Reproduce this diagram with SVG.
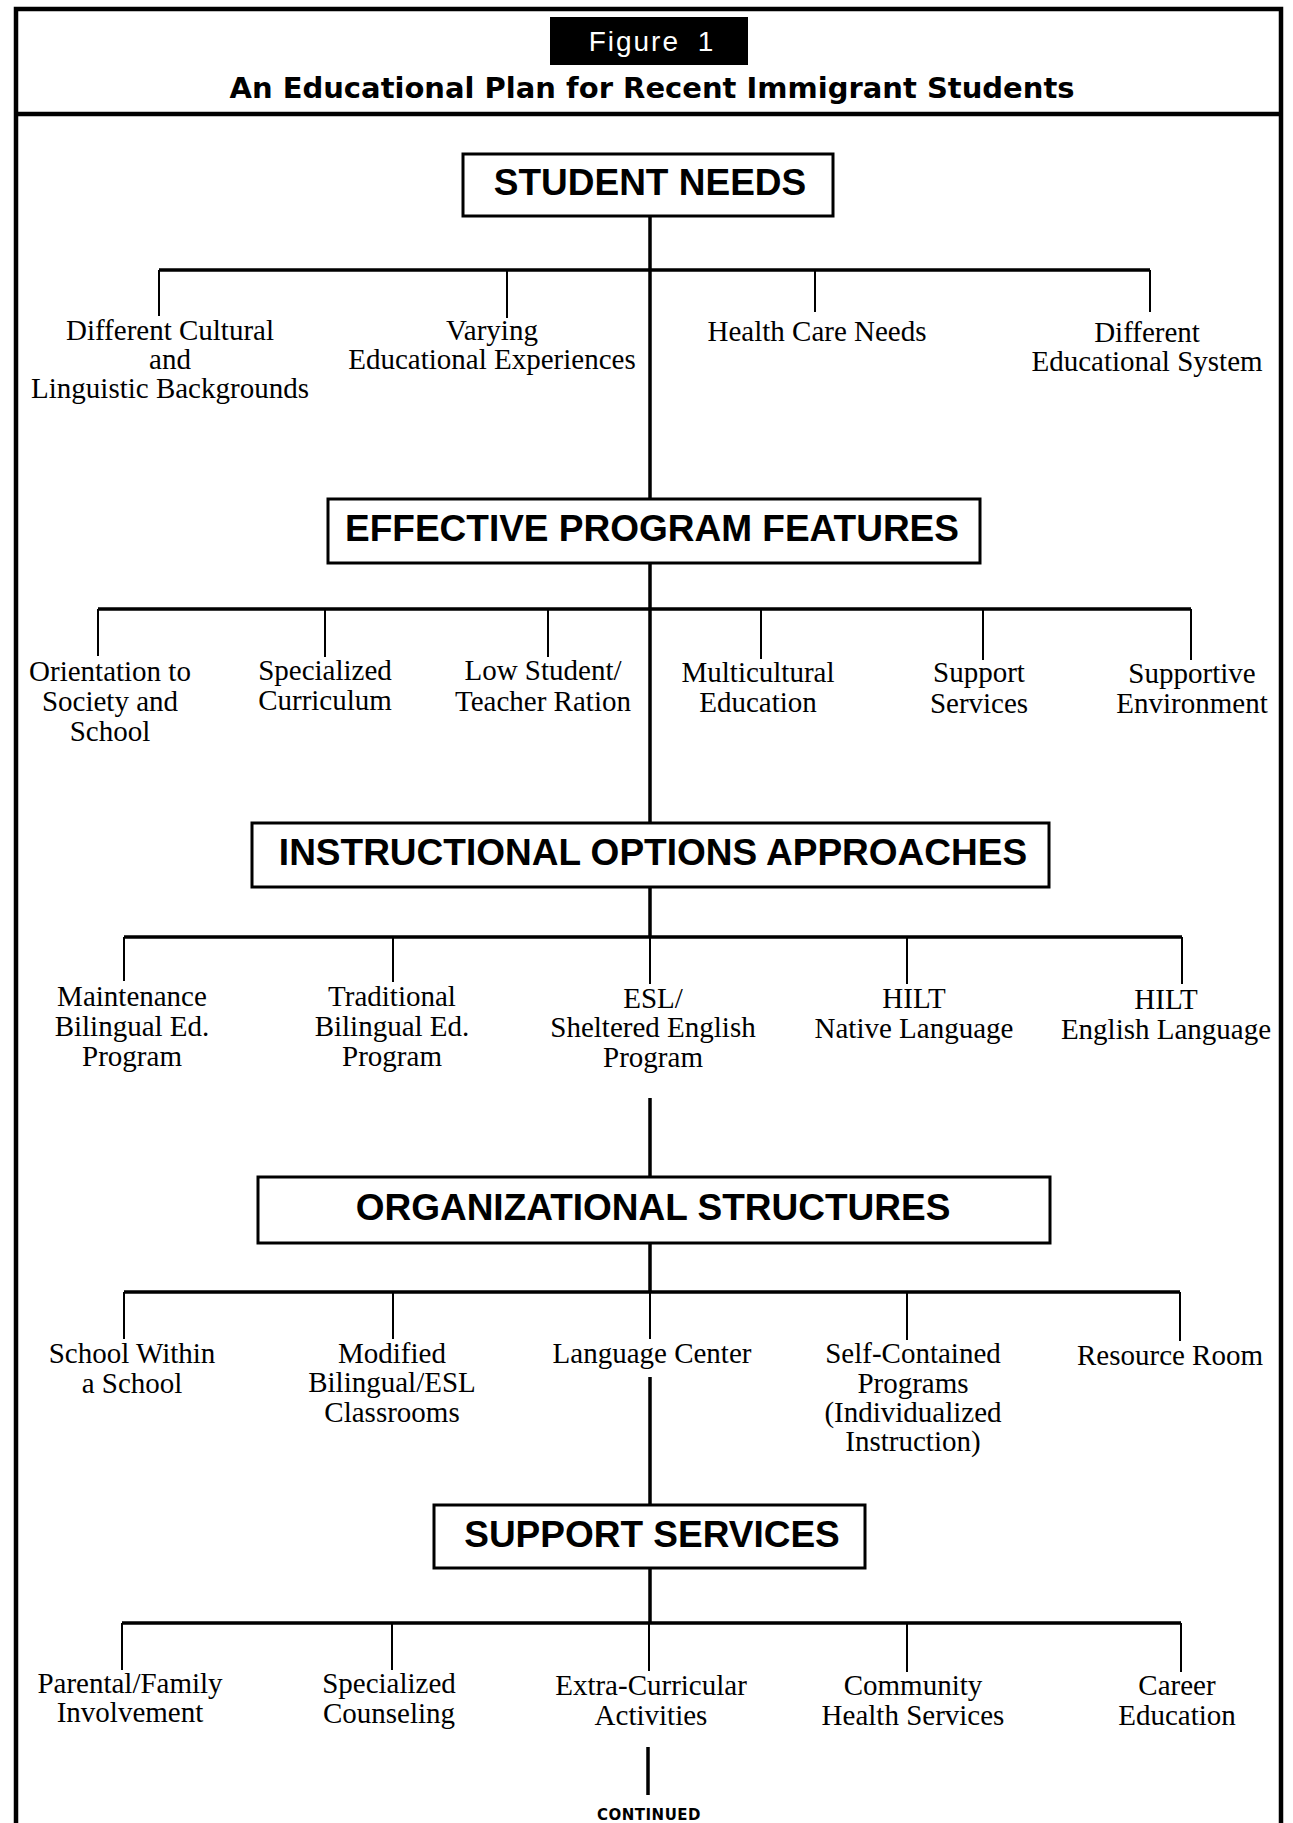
<svg xmlns="http://www.w3.org/2000/svg" width="1293" height="1823" viewBox="0 0 1293 1823">
<style>
.frame{fill:none;stroke:#000;stroke-width:4.5}
.box{fill:#fff;stroke:#000;stroke-width:3}
.trunk{fill:none;stroke:#000;stroke-width:3.5}
.bar{fill:none;stroke:#000;stroke-width:3.5}
.drop{fill:none;stroke:#000;stroke-width:2}
.h{font-family:"Liberation Sans",Arial,sans-serif;font-weight:bold;font-size:37px;text-anchor:middle;fill:#000}
.t{font-family:"Liberation Serif","Times New Roman",serif;font-size:29px;text-anchor:middle;fill:#000}
.title{font-family:"DejaVu Sans",sans-serif;font-weight:bold;font-size:29px;text-anchor:middle;fill:#000}
.fig{font-family:"Liberation Sans",Arial,sans-serif;font-size:28px;text-anchor:middle;fill:#fff;letter-spacing:2px;word-spacing:8px}
.cont{font-family:"DejaVu Sans",sans-serif;font-weight:bold;font-size:15px;text-anchor:middle;fill:#000;letter-spacing:0.5px}
</style>
<rect x="0" y="0" width="1293" height="1823" fill="#fff"/>
<g id="frame">
<path class="frame" d="M16,1823 V9 H1281 V1823"/>
<path class="frame" d="M16,114 H1281"/>
</g>
<g id="header">
<rect x="550" y="17" width="198" height="48" fill="#000"/>
<text class="fig" x="652" y="51">Figure 1</text>
<text class="title" x="652" y="98">An Educational Plan for Recent Immigrant Students</text>
</g>
<g id="connectors">
<path class="trunk" d="M650,216 V499 M650,563 V823 M650,887 V937 M650,1098 V1177 M650,1243 V1293 M650,1377 V1505 M650,1568 V1623"/>
<path class="trunk" d="M648,1747 V1795" stroke-width="4"/>
<path class="bar" d="M159,270 H1150 M98,609 H1191 M124,937 H1182 M124,1292 H1180 M122,1623 H1181"/>
<path class="drop" d="M159,270 V316 M507,270 V318 M815,270 V312 M1150,270 V312"/>
<path class="drop" d="M98,609 V656 M325,609 V657 M548,609 V657 M761,609 V659 M983,609 V660 M1191,609 V660"/>
<path class="drop" d="M124,937 V981 M393,937 V982 M650,937 V984 M907,937 V984 M1182,937 V984"/>
<path class="drop" d="M124,1292 V1339 M393,1292 V1339 M650,1292 V1339 M907,1292 V1340 M1180,1292 V1341"/>
<path class="drop" d="M122,1623 V1670 M392,1623 V1670 M649,1623 V1671 M907,1623 V1672 M1181,1623 V1672"/>
</g>
<g id="student-needs">
<rect class="box" x="463" y="154" width="370" height="62"/>
<text class="h" x="650" y="195">STUDENT NEEDS</text>
</g>
<g id="cultural"><text class="t" x="170" y="340">Different Cultural<tspan x="170" y="369">and</tspan><tspan x="170" y="398">Linguistic Backgrounds</tspan></text></g>
<g id="varying"><text class="t" x="492" y="340">Varying<tspan x="492" y="369">Educational Experiences</tspan></text></g>
<g id="health"><text class="t" x="817" y="341">Health Care Needs</text></g>
<g id="system"><text class="t" x="1147" y="342">Different<tspan x="1147" y="371">Educational System</tspan></text></g>
<g id="effective-program-features">
<rect class="box" x="328" y="499" width="652" height="64"/>
<text class="h" x="652" y="541">EFFECTIVE PROGRAM FEATURES</text>
</g>
<g id="orientation"><text class="t" x="110" y="681">Orientation to<tspan x="110" y="711">Society and</tspan><tspan x="110" y="741">School</tspan></text></g>
<g id="curriculum"><text class="t" x="325" y="680">Specialized<tspan x="325" y="710">Curriculum</tspan></text></g>
<g id="ratio"><text class="t" x="543" y="680">Low Student/<tspan x="543" y="711">Teacher Ration</tspan></text></g>
<g id="multicultural"><text class="t" x="758" y="682">Multicultural<tspan x="758" y="712">Education</tspan></text></g>
<g id="support-services-feature"><text class="t" x="979" y="682">Support<tspan x="979" y="713">Services</tspan></text></g>
<g id="environment"><text class="t" x="1192" y="683">Supportive<tspan x="1192" y="713">Environment</tspan></text></g>
<g id="instructional-options">
<rect class="box" x="252" y="823" width="797" height="64"/>
<text class="h" x="653" y="865">INSTRUCTIONAL OPTIONS APPROACHES</text>
</g>
<g id="maintenance"><text class="t" x="132" y="1006">Maintenance<tspan x="132" y="1036">Bilingual Ed.</tspan><tspan x="132" y="1066">Program</tspan></text></g>
<g id="traditional"><text class="t" x="392" y="1006">Traditional<tspan x="392" y="1036">Bilingual Ed.</tspan><tspan x="392" y="1066">Program</tspan></text></g>
<g id="esl"><text class="t" x="653" y="1008">ESL/<tspan x="653" y="1037">Sheltered English</tspan><tspan x="653" y="1067">Program</tspan></text></g>
<g id="hilt-native"><text class="t" x="914" y="1008">HILT<tspan x="914" y="1038">Native Language</tspan></text></g>
<g id="hilt-english"><text class="t" x="1166" y="1009">HILT<tspan x="1166" y="1039">English Language</tspan></text></g>
<g id="organizational-structures">
<rect class="box" x="258" y="1177" width="792" height="66"/>
<text class="h" x="653" y="1220">ORGANIZATIONAL STRUCTURES</text>
</g>
<g id="school-within"><text class="t" x="132" y="1363">School Within<tspan x="132" y="1393">a School</tspan></text></g>
<g id="modified"><text class="t" x="392" y="1363">Modified<tspan x="392" y="1392">Bilingual/ESL</tspan><tspan x="392" y="1422">Classrooms</tspan></text></g>
<g id="language-center"><text class="t" x="652" y="1363">Language Center</text></g>
<g id="self-contained"><text class="t" x="913" y="1363">Self-Contained<tspan x="913" y="1393">Programs</tspan><tspan x="913" y="1422">(Individualized</tspan><tspan x="913" y="1451">Instruction)</tspan></text></g>
<g id="resource-room"><text class="t" x="1170" y="1365">Resource Room</text></g>
<g id="support-services">
<rect class="box" x="434" y="1505" width="431" height="63"/>
<text class="h" x="652" y="1547">SUPPORT SERVICES</text>
</g>
<g id="parental"><text class="t" x="130" y="1693">Parental/Family<tspan x="130" y="1722">Involvement</tspan></text></g>
<g id="counseling"><text class="t" x="389" y="1693">Specialized<tspan x="389" y="1723">Counseling</tspan></text></g>
<g id="extra-curricular"><text class="t" x="651" y="1695">Extra-Curricular<tspan x="651" y="1725">Activities</tspan></text></g>
<g id="community-health"><text class="t" x="913" y="1695">Community<tspan x="913" y="1725">Health Services</tspan></text></g>
<g id="career"><text class="t" x="1177" y="1695">Career<tspan x="1177" y="1725">Education</tspan></text></g>
<g id="continued"><text class="cont" x="649" y="1820">CONTINUED</text></g>
</svg>
